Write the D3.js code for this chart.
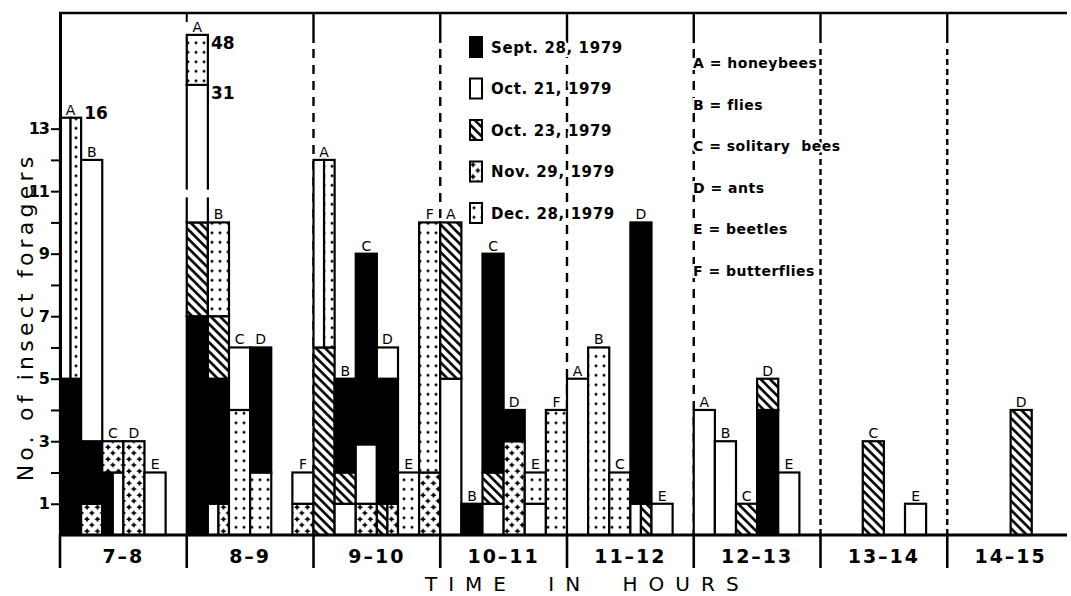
<!DOCTYPE html>
<html>
<head>
<meta charset="utf-8">
<title>Insect foragers by hour</title>
<script src="https://d3js.org/d3.v7.min.js"></script>
<style>
  body { margin: 0; background: #fff; }
  svg text { font-family: "DejaVu Sans", sans-serif; fill: #000; }
</style>
</head>
<body>
<div id="chart"></div>
<script>
var hours = ["7–8", "8–9", "9–10", "10–11", "11–12", "12–13", "13–14", "14–15"];
var groups = ["A", "B", "C", "D", "E", "F"];
var groupNames = ["honeybees", "flies", "solitary  bees", "ants", "beetles", "butterflies"];
var dates = ["Sept. 28, 1979", "Oct. 21, 1979", "Oct. 23, 1979", "Nov. 29, 1979", "Dec. 28, 1979"];
var yLabels = [1, 3, 5, 7, 9, 11, 13];

// [hour, group, date index, from, to, lane]   lane 0 = whole bar, 1 = left half, 2 = right half
var segments = [
  ["7–8", "A", 0, 0, 5, 0], ["7–8", "A", 1, 5, 13.35, 1], ["7–8", "A", 4, 5, 13.35, 2],
  ["7–8", "B", 3, 0, 1, 0], ["7–8", "B", 0, 1, 3, 0], ["7–8", "B", 1, 3, 12, 0],
  ["7–8", "C", 0, 0, 2, 1], ["7–8", "C", 1, 0, 2, 2], ["7–8", "C", 3, 2, 3, 0],
  ["7–8", "D", 3, 0, 3, 0],
  ["7–8", "E", 1, 0, 2, 0],

  ["8–9", "A", 0, 0, 7, 0], ["8–9", "A", 2, 7, 10, 0], ["8–9", "A", 1, 10, 14.4, 0], ["8–9", "A", 4, 14.4, 16, 0],
  ["8–9", "B", 1, 0, 1, 1], ["8–9", "B", 3, 0, 1, 2], ["8–9", "B", 0, 1, 5, 0], ["8–9", "B", 2, 5, 7, 0], ["8–9", "B", 4, 7, 10, 0],
  ["8–9", "C", 4, 0, 4, 0], ["8–9", "C", 1, 4, 6, 0],
  ["8–9", "D", 4, 0, 2, 0], ["8–9", "D", 0, 2, 6, 0],
  ["8–9", "F", 3, 0, 1, 0], ["8–9", "F", 1, 1, 2, 0],

  ["9–10", "A", 2, 0, 6, 0], ["9–10", "A", 1, 6, 12, 1], ["9–10", "A", 4, 6, 12, 2],
  ["9–10", "B", 1, 0, 1, 0], ["9–10", "B", 2, 1, 2, 0], ["9–10", "B", 0, 2, 5, 0],
  ["9–10", "C", 3, 0, 1, 0], ["9–10", "C", 1, 1, 2.9, 0], ["9–10", "C", 0, 2.9, 9, 0],
  ["9–10", "D", 2, 0, 1, 1], ["9–10", "D", 3, 0, 1, 2], ["9–10", "D", 0, 1, 5, 0], ["9–10", "D", 1, 5, 6, 0],
  ["9–10", "E", 4, 0, 2, 0],
  ["9–10", "F", 3, 0, 2, 0], ["9–10", "F", 4, 2, 10, 0],

  ["10–11", "A", 1, 0, 5, 0], ["10–11", "A", 2, 5, 10, 0],
  ["10–11", "B", 0, 0, 1, 0],
  ["10–11", "C", 1, 0, 1, 0], ["10–11", "C", 2, 1, 2, 0], ["10–11", "C", 0, 2, 9, 0],
  ["10–11", "D", 3, 0, 3, 0], ["10–11", "D", 0, 3, 4, 0],
  ["10–11", "E", 1, 0, 1, 0], ["10–11", "E", 4, 1, 2, 0],
  ["10–11", "F", 4, 0, 4, 0],

  ["11–12", "A", 1, 0, 5, 0],
  ["11–12", "B", 4, 0, 6, 0],
  ["11–12", "C", 4, 0, 2, 0],
  ["11–12", "D", 1, 0, 1, 1], ["11–12", "D", 2, 0, 1, 2], ["11–12", "D", 0, 1, 10, 0],
  ["11–12", "E", 1, 0, 1, 0],

  ["12–13", "A", 1, 0, 4, 0],
  ["12–13", "B", 1, 0, 3, 0],
  ["12–13", "C", 2, 0, 1, 0],
  ["12–13", "D", 0, 0, 4, 0], ["12–13", "D", 2, 4, 5, 0],
  ["12–13", "E", 1, 0, 2, 0],

  ["13–14", "C", 2, 0, 3, 0],
  ["13–14", "E", 1, 0, 1, 0],

  ["14–15", "D", 2, 0, 4, 0]
];

// scale break drawn in the tall 8-9 honeybee bar
var breaks = [["8–9", "A", 10.8, 11.05]];

// real counts written beside the broken bars: [hour, group, text, value, place]
var notes = [
  ["7–8", "A", "16", 13.35, "above"],
  ["8–9", "A", "48", 16, "below"],
  ["8–9", "A", "31", 14.4, "below"]
];

var width = 1071, height = 596;
var plotLeft = 60, plotTop = 13, base = 535, plotRight = 1067;

var svg = d3.select("#chart").append("svg")
  .attr("width", width)
  .attr("height", height);

// patterns for the five dates
var defs = svg.append("defs");

var hatch = defs.append("pattern").attr("id", "hatch")
  .attr("patternUnits", "userSpaceOnUse")
  .attr("width", 6.5).attr("height", 6.5)
  .attr("patternTransform", "rotate(45)");
hatch.append("rect").attr("width", 6.5).attr("height", 6.5).attr("fill", "#fff");
hatch.append("line").attr("x1", 0).attr("x2", 6.5).attr("y1", 3.25).attr("y2", 3.25)
  .attr("stroke", "#000").attr("stroke-width", 2.6);

var dots = defs.append("pattern").attr("id", "dots")
  .attr("patternUnits", "userSpaceOnUse")
  .attr("width", 8).attr("height", 9.5);
dots.append("rect").attr("width", 8).attr("height", 9.5).attr("fill", "#fff");
dots.append("circle").attr("cx", 4).attr("cy", 4.75).attr("r", 1.5).attr("fill", "#000");

var star = "M0,-3 L1.1,-1.1 L3,0 L1.1,1.1 L0,3 L-1.1,1.1 L-3,0 L-1.1,-1.1Z";
var cross = defs.append("pattern").attr("id", "cross")
  .attr("patternUnits", "userSpaceOnUse")
  .attr("width", 10.5).attr("height", 12);
cross.append("rect").attr("width", 10.5).attr("height", 12).attr("fill", "#fff");
cross.append("path").attr("d", star).attr("transform", "translate(3,3.2)").attr("fill", "#000");
cross.append("path").attr("d", star).attr("transform", "translate(7.8,9)").attr("fill", "#000");

var fills = ["#000", "#fff", "url(#hatch)", "url(#cross)", "url(#dots)"];

var x = d3.scaleBand().domain(hours).range([plotLeft, 1074]);
var gx = d3.scaleBand().domain(groups).range([0, x.bandwidth()]);
var y = d3.scaleLinear().domain([0, 16.7]).range([base, plotTop]);

// hour separators: dashed inside the plot, solid below the axis
var bounds = hours.map(function(h) { return x(h); });
bounds.forEach(function(bx, i) {
  svg.append("line")
    .attr("x1", bx).attr("x2", bx).attr("y1", base).attr("y2", base + 33)
    .attr("stroke", "#000").attr("stroke-width", 2.6);
  if (i == 0) return;
  if (i == 1) {
    svg.append("line")
      .attr("x1", bx).attr("x2", bx).attr("y1", plotTop).attr("y2", plotTop + 9)
      .attr("stroke", "#000").attr("stroke-width", 2);
    return;
  }
  svg.append("line")
    .attr("x1", bx).attr("x2", bx).attr("y1", plotTop).attr("y2", plotTop + 30)
    .attr("stroke", "#000").attr("stroke-width", 2.4);
  svg.append("line")
    .attr("x1", bx).attr("x2", bx).attr("y1", plotTop + 36).attr("y2", base)
    .attr("stroke", "#000").attr("stroke-width", 2.4)
    .attr("stroke-dasharray", i >= 6 ? "6,4" : "9,7");
});

// bar segments
function segX(d) {
  var bx = x(d[0]) + gx(d[1]);
  return d[5] == 2 ? bx + gx.bandwidth() / 2 : bx;
}
function segW(d) {
  return d[5] == 0 ? gx.bandwidth() : gx.bandwidth() / 2;
}

svg.append("g").selectAll("rect")
  .data(segments)
  .enter()
  .append("rect")
  .attr("x", segX)
  .attr("y", function(d) { return y(d[4]); })
  .attr("width", segW)
  .attr("height", function(d) { return y(d[3]) - y(d[4]); })
  .attr("fill", function(d) { return fills[d[2]]; })
  .attr("stroke", "#000")
  .attr("stroke-width", 2.2);

svg.append("g").selectAll("rect")
  .data(breaks)
  .enter()
  .append("rect")
  .attr("x", function(d) { return x(d[0]) + gx(d[1]) - 2; })
  .attr("y", function(d) { return y(d[3]); })
  .attr("width", gx.bandwidth() + 4)
  .attr("height", function(d) { return y(d[2]) - y(d[3]); })
  .attr("fill", "#fff");

// letter above each bar
var tops = d3.rollups(segments, function(v) { return d3.max(v, function(d) { return d[4]; }); },
  function(d) { return d[0] + "|" + d[1]; });
svg.append("g").selectAll("text")
  .data(tops)
  .enter()
  .append("text")
  .attr("x", function(d) { var k = d[0].split("|"); return x(k[0]) + gx(k[1]) + gx.bandwidth() / 2; })
  .attr("y", function(d) { return y(d[1]) - 3; })
  .attr("text-anchor", "middle")
  .style("font-size", "14px")
  .text(function(d) { return d[0].split("|")[1]; });

svg.append("g").selectAll("text")
  .data(notes)
  .enter()
  .append("text")
  .attr("x", function(d) { return x(d[0]) + gx(d[1]) + gx.bandwidth() + 3; })
  .attr("y", function(d) { return d[4] == "above" ? y(d[3]) + 1 : y(d[3]) + 14; })
  .style("font-size", "17px")
  .style("font-weight", "bold")
  .text(function(d) { return d[2]; });

// axes
var yAxis = svg.append("g")
  .attr("transform", "translate(" + plotLeft + ",0)")
  .call(d3.axisLeft(y).tickValues(d3.range(1, 14)).tickSize(9).tickSizeOuter(0)
    .tickFormat(function(d) { return yLabels.indexOf(d) >= 0 ? d : ""; }));
yAxis.select(".domain").attr("stroke-width", 3);
yAxis.selectAll(".tick line").attr("stroke-width", 2);
yAxis.selectAll(".tick text")
  .attr("x", -11)
  .style("font-family", "DejaVu Sans, sans-serif")
  .style("font-size", "16px")
  .style("font-weight", "bold")
  .style("letter-spacing", "-1px");

svg.append("line")
  .attr("x1", plotLeft - 1).attr("x2", plotRight).attr("y1", base).attr("y2", base)
  .attr("stroke", "#000").attr("stroke-width", 3);
svg.append("line")
  .attr("x1", plotLeft - 1).attr("x2", plotRight).attr("y1", plotTop).attr("y2", plotTop)
  .attr("stroke", "#000").attr("stroke-width", 2.5);

svg.append("g").selectAll("text")
  .data(hours)
  .enter()
  .append("text")
  .attr("x", function(d) { return x(d) + x.bandwidth() / 2; })
  .attr("y", base + 28)
  .attr("text-anchor", "middle")
  .style("font-size", "19px")
  .style("font-weight", "bold")
  .style("letter-spacing", "2px")
  .text(function(d) { return d; });

svg.append("text")
  .attr("x", 425)
  .attr("y", 591)
  .style("font-size", "20px")
  .style("letter-spacing", "11px")
  .style("word-spacing", "14px")
  .text("TIME IN HOURS");

svg.append("text")
  .attr("transform", "translate(33,317) rotate(-90)")
  .attr("text-anchor", "middle")
  .style("font-size", "22px")
  .style("letter-spacing", "4.2px")
  .text("No. of insect foragers");

// date legend
var dateLegend = svg.append("g").selectAll("g")
  .data(dates)
  .enter()
  .append("g")
  .attr("transform", function(d, i) { return "translate(470," + (37 + i * 41.5) + ")"; });
dateLegend.append("rect")
  .attr("width", 12).attr("height", 20)
  .attr("fill", function(d, i) { return fills[i]; })
  .attr("stroke", "#000").attr("stroke-width", 2);
dateLegend.append("text")
  .attr("x", 21).attr("y", 15.5)
  .style("font-size", "15px")
  .style("font-weight", "bold")
  .style("letter-spacing", "0.6px")
  .style("paint-order", "stroke")
  .style("stroke", "#fff").style("stroke-width", "4px")
  .text(function(d) { return d; });

// insect group legend
svg.append("g").selectAll("text")
  .data(groups)
  .enter()
  .append("text")
  .attr("x", 693)
  .attr("y", function(d, i) { return 68 + i * 41.5; })
  .attr("xml:space", "preserve")
  .style("white-space", "pre")
  .style("font-size", "14px")
  .style("font-weight", "bold")
  .style("letter-spacing", "0.5px")
  .style("paint-order", "stroke")
  .style("stroke", "#fff").style("stroke-width", "4px")
  .text(function(d, i) { return d + " = " + groupNames[i]; });
</script>
</body>
</html>
